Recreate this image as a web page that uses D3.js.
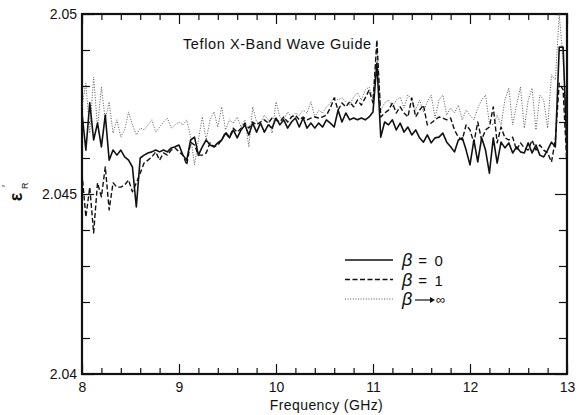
<!DOCTYPE html>
<html>
<head>
<meta charset="utf-8">
<script src="https://cdn.jsdelivr.net/npm/d3@7"></script>
<style>
  body { margin: 0; background: #fff; }
  svg text { font-family: "Liberation Sans", Arial, sans-serif; fill: #111; }
</style>
</head>
<body>
<svg class="chart" width="578" height="415"></svg>
<script>
// sample grid, GHz (every 0.04 from 8 to 13)
const freq = d3.range(126).map((i) => +(8 + i * 0.04).toFixed(2));

// beta = 0 (solid)
const beta0 = [
  2.04725, 2.04622, 2.04753, 2.0465, 2.04697, 2.04631, 2.04719, 2.04594, 2.04622, 2.04608,
  2.04622, 2.04603, 2.04594, 2.04575, 2.04464, 2.046, 2.04608, 2.04614, 2.04617, 2.04622,
  2.04617, 2.04622, 2.04617, 2.04628, 2.04631, 2.04636, 2.04608, 2.04594, 2.0465, 2.04658,
  2.04608, 2.04631, 2.0465, 2.04636, 2.04631, 2.04642, 2.0465, 2.04669, 2.04656, 2.04678,
  2.04656, 2.04678, 2.04692, 2.04664, 2.04697, 2.04672, 2.04697, 2.04672, 2.04692, 2.04683,
  2.04711, 2.04692, 2.04706, 2.04683, 2.047, 2.04711, 2.04686, 2.04711, 2.04683, 2.04697,
  2.04683, 2.04697, 2.04686, 2.04706, 2.04697, 2.04686, 2.04733, 2.047, 2.04725, 2.04706,
  2.04711, 2.04706, 2.04711, 2.04706, 2.04714, 2.04728, 2.04864, 2.04658, 2.047, 2.04692,
  2.04706, 2.04678, 2.04697, 2.04672, 2.04686, 2.04664, 2.04678, 2.04656, 2.04644, 2.04664,
  2.04642, 2.04656, 2.04658, 2.04669, 2.04644, 2.04631, 2.04617, 2.0465, 2.04656, 2.04622,
  2.04581, 2.0465, 2.04589, 2.04656, 2.04622, 2.04558, 2.04656, 2.04586, 2.04644, 2.04628,
  2.04642, 2.04614, 2.04631, 2.04617, 2.04614, 2.04642, 2.04614, 2.04636, 2.04608, 2.04603,
  2.04622, 2.04644, 2.04631, 2.04908, 2.04908, 2.04614,
];

// beta = 1 (dashed)
const beta1 = [
  2.04558, 2.04436, 2.04519, 2.04392, 2.04531, 2.04492, 2.04575, 2.04456, 2.04531, 2.04519,
  2.04519, 2.04525, 2.04539, 2.04506, 2.04531, 2.04558, 2.04586, 2.04594, 2.04603, 2.04617,
  2.04594, 2.04614, 2.04608, 2.04622, 2.04628, 2.04617, 2.04608, 2.04581, 2.04644, 2.04636,
  2.04608, 2.04608, 2.04614, 2.04642, 2.04631, 2.04636, 2.0465, 2.04672, 2.04658, 2.04683,
  2.04672, 2.04683, 2.04697, 2.04683, 2.047, 2.04692, 2.047, 2.04706, 2.04697, 2.04711,
  2.04706, 2.047, 2.04714, 2.047, 2.04714, 2.04719, 2.04706, 2.04714, 2.04706, 2.04711,
  2.04714, 2.04711, 2.04714, 2.04719, 2.04739, 2.04767, 2.04733, 2.04753, 2.04742, 2.04756,
  2.04742, 2.04761, 2.04747, 2.04767, 2.04789, 2.04753, 2.04928, 2.04714, 2.04725, 2.04733,
  2.04753, 2.04725, 2.04742, 2.04725, 2.04714, 2.04767, 2.04714, 2.04733, 2.04747, 2.04692,
  2.04697, 2.04706, 2.04714, 2.04711, 2.04706, 2.04711, 2.04678, 2.04658, 2.0465, 2.04692,
  2.04678, 2.04642, 2.047, 2.0465, 2.04678, 2.04686, 2.04742, 2.04642, 2.04686, 2.04656,
  2.0465, 2.04658, 2.04622, 2.04642, 2.04628, 2.04622, 2.0465, 2.04622, 2.04636, 2.04622,
  2.04614, 2.04589, 2.0465, 2.04808, 2.04789, 2.04575,
];

// beta -> infinity (dotted)
const betaInf = [
  2.04742, 2.04808, 2.04669, 2.04825, 2.04686, 2.04797, 2.04706, 2.04756, 2.04669, 2.04706,
  2.04658, 2.04678, 2.04728, 2.04692, 2.04664, 2.04683, 2.04678, 2.04692, 2.04706, 2.04672,
  2.04686, 2.047, 2.04711, 2.04683, 2.04692, 2.047, 2.04692, 2.04706, 2.04658, 2.04581,
  2.0465, 2.04714, 2.0465, 2.04706, 2.04728, 2.04686, 2.04742, 2.04678, 2.04706, 2.04697,
  2.04714, 2.04686, 2.04706, 2.04631, 2.04742, 2.047, 2.04697, 2.04719, 2.04706, 2.04669,
  2.04756, 2.04714, 2.04706, 2.04728, 2.04714, 2.04725, 2.04719, 2.04733, 2.04725, 2.04756,
  2.04714, 2.04733, 2.04725, 2.04742, 2.04753, 2.04769, 2.04761, 2.04767, 2.04756, 2.04747,
  2.04769, 2.04781, 2.04761, 2.04789, 2.04797, 2.04767, 2.04914, 2.04733, 2.04753, 2.04761,
  2.04742, 2.04761, 2.04769, 2.04739, 2.04775, 2.04761, 2.04733, 2.04761, 2.04728, 2.04756,
  2.04775, 2.04711, 2.04761, 2.04775, 2.04719, 2.04739, 2.04725, 2.04747, 2.04706, 2.04733,
  2.04719, 2.04706, 2.04739, 2.04761, 2.04775, 2.04697, 2.04692, 2.04719, 2.04692, 2.04761,
  2.04794, 2.04692, 2.04747, 2.04797, 2.04683, 2.04761, 2.04794, 2.04678, 2.04775, 2.04761,
  2.04683, 2.04831, 2.04817, 2.05, 2.04872, 2.04678,
];

const xMajor = [8, 9, 10, 11, 12, 13];
const yLabelled = [2.04, 2.045, 2.05];

const margin = { top: 14, right: 11, bottom: 41, left: 82 };
const W = 578, H = 415;
const width = W - margin.left - margin.right;
const height = H - margin.top - margin.bottom;

const svg = d3.select(".chart");

const x = d3.scaleLinear().domain([8, 13]).range([margin.left, margin.left + width]);
const y = d3.scaleLinear().domain([2.04, 2.05]).range([margin.top + height, margin.top]);

const xMinor = d3.range(8, 13.001, 0.2).map((d) => +d.toFixed(1)).filter((d) => !xMajor.includes(d));
const yMinor = d3.range(2.04, 2.05001, 0.001).map((d) => +d.toFixed(3)).filter((d) => !yLabelled.includes(d));

function tidy(g) {
  g.select(".domain").remove();
  g.selectAll(".tick line").attr("stroke", "#111").attr("stroke-width", 1.2);
  g.selectAll(".tick text")
    .style("font-family", '"Liberation Sans", Arial, sans-serif')
    .style("font-size", "14px")
    .attr("fill", "#111");
}

// bottom
svg.append("g").attr("transform", `translate(0,${margin.top + height})`)
  .call(d3.axisBottom(x).tickValues(xMajor).tickSizeInner(-10).tickSizeOuter(0).tickPadding(8).tickFormat(d3.format("d")))
  .call(tidy);
svg.append("g").attr("transform", `translate(0,${margin.top + height})`)
  .call(d3.axisBottom(x).tickValues(xMinor).tickSizeInner(-6).tickSizeOuter(0).tickFormat(""))
  .call(tidy);
// top
svg.append("g").attr("transform", `translate(0,${margin.top})`)
  .call(d3.axisTop(x).tickValues(xMajor).tickSizeInner(-10).tickSizeOuter(0).tickFormat(""))
  .call(tidy);
svg.append("g").attr("transform", `translate(0,${margin.top})`)
  .call(d3.axisTop(x).tickValues(xMinor).tickSizeInner(-6).tickSizeOuter(0).tickFormat(""))
  .call(tidy);
// left
svg.append("g").attr("transform", `translate(${margin.left},0)`)
  .call(d3.axisLeft(y).tickValues(yLabelled).tickSizeInner(-12).tickSizeOuter(0).tickPadding(5).tickFormat((d) => String(d)))
  .call(tidy);
svg.append("g").attr("transform", `translate(${margin.left},0)`)
  .call(d3.axisLeft(y).tickValues(yMinor).tickSizeInner(-8).tickSizeOuter(0).tickFormat(""))
  .call(tidy);
// right
svg.append("g").attr("transform", `translate(${margin.left + width},0)`)
  .call(d3.axisRight(y).tickValues(yLabelled).tickSizeInner(-12).tickSizeOuter(0).tickFormat(""))
  .call(tidy);
svg.append("g").attr("transform", `translate(${margin.left + width},0)`)
  .call(d3.axisRight(y).tickValues(yMinor).tickSizeInner(-8).tickSizeOuter(0).tickFormat(""))
  .call(tidy);

// frame
svg.append("rect")
  .attr("x", margin.left).attr("y", margin.top)
  .attr("width", width).attr("height", height)
  .attr("fill", "none").attr("stroke", "#111").attr("stroke-width", 2.2);

svg.append("clipPath").attr("id", "plot")
  .append("rect")
  .attr("x", margin.left).attr("y", margin.top)
  .attr("width", width).attr("height", height);

const series = [
  { key: "inf", values: betaInf, width: 1, dash: "1,1.6", color: "#555" },
  { key: "b1", values: beta1, width: 1.4, dash: "5,2.5", color: "#111" },
  { key: "b0", values: beta0, width: 1.6, dash: null, color: "#111" },
];

const line = d3.line().x((d) => x(d[0])).y((d) => y(d[1]));

series.forEach((s) => {
  svg.append("path")
    .datum(freq.map((f, i) => [f, s.values[i]]))
    .attr("clip-path", "url(#plot)")
    .attr("d", line)
    .attr("fill", "none")
    .attr("stroke", s.color)
    .attr("stroke-width", s.width)
    .attr("stroke-dasharray", s.dash)
    .attr("stroke-linejoin", "round");
});

// title inside
svg.append("text")
  .attr("x", 183).attr("y", 49)
  .style("font-size", "14.5px")
  .style("letter-spacing", "0.6px")
  .text("Teflon X-Band Wave Guide");

// axis titles
svg.append("text")
  .attr("x", x(10.5) + 2).attr("y", 410)
  .attr("text-anchor", "middle")
  .style("font-size", "14px")
  .style("letter-spacing", "0.4px")
  .text("Frequency (GHz)");

const yl = svg.append("g").attr("transform", "translate(18,197) rotate(-90)");
yl.append("text").attr("x", 0).attr("y", 4).attr("text-anchor", "middle")
  .style("font-size", "18px").style("font-weight", "bold").text("ε");
yl.append("text").attr("x", 8).attr("y", 10)
  .style("font-size", "9px").text("R");
yl.append("text").attr("x", 10).attr("y", -8)
  .style("font-size", "11px").text("′");

// legend
const legend = [
  { label: "= 0", dash: null, width: 1.6, color: "#111", arrow: false },
  { label: "= 1", dash: "5,2.5", width: 1.4, color: "#111", arrow: false },
  { label: "∞", dash: "1,1.6", width: 1, color: "#555", arrow: true },
];
legend.forEach((d, i) => {
  const ly = 260 + i * 19.5;
  svg.append("line")
    .attr("x1", 345).attr("x2", 393).attr("y1", ly).attr("y2", ly)
    .attr("stroke", d.color).attr("stroke-width", d.width)
    .attr("stroke-dasharray", d.dash);
  const t = svg.append("text").attr("x", 402).attr("y", ly + 6);
  t.append("tspan").style("font-size", "18px").style("font-style", "italic").text("β");
  if (d.arrow) {
    svg.append("line")
      .attr("x1", 415).attr("x2", 430).attr("y1", ly + 1).attr("y2", ly + 1)
      .attr("stroke", "#111").attr("stroke-width", 1.2);
    svg.append("path")
      .attr("d", `M430,${ly - 2} L435,${ly + 1} L430,${ly + 4} Z`)
      .attr("fill", "#111");
    svg.append("text").attr("x", 436).attr("y", ly + 5)
      .style("font-size", "13px").text(d.label);
  } else {
    t.append("tspan").attr("dx", 6).style("font-size", "15px").text(d.label.replace(" ", "\u2002"));
  }
});
</script>
</body>
</html>
